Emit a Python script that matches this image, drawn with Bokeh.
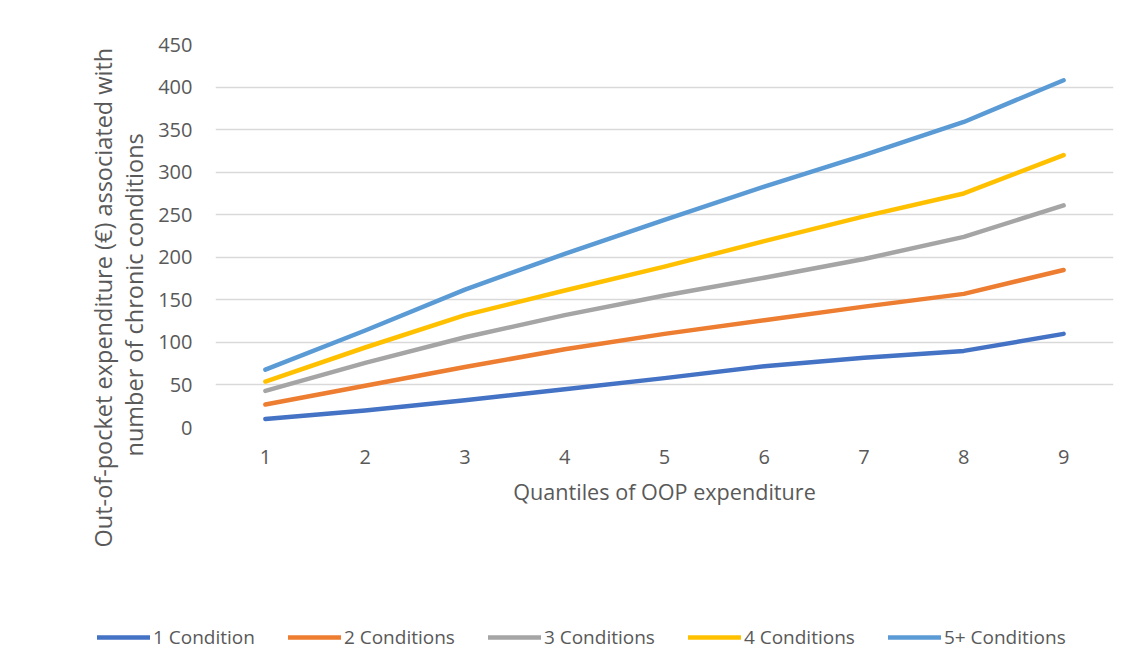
from bokeh.plotting import figure
from bokeh.models import Legend, LegendItem, FixedTicker, Range1d, Title
from bokeh.layouts import column, row
from bokeh.embed import file_html
from bokeh.resources import INLINE

# ---- data ----
quantiles = [1, 2, 3, 4, 5, 6, 7, 8, 9]
cond1 = [10, 20, 32, 45, 58, 72, 82, 90, 110]
cond2 = [27, 49, 71, 92, 110, 126, 142, 157, 185]
cond3 = [43, 76, 106, 132, 155, 176, 198, 224, 261]
cond4 = [54, 94, 132, 161, 189, 219, 248, 275, 320]
cond5 = [68, 114, 162, 204, 244, 283, 320, 359, 408]
series_names = ["1 Condition", "2 Conditions", "3 Conditions", "4 Conditions", "5+ Conditions"]
series_values = [cond1, cond2, cond3, cond4, cond5]
series_colors = ["#4472C4", "#ED7D31", "#A5A5A5", "#FFC000", "#5B9BD5"]
y_ticks = [0, 50, 100, 150, 200, 250, 300, 350, 400, 450]
x_title = "Quantiles of OOP expenditure"
y_title_1 = "Out-of-pocket  expenditure (€) associated with"
y_title_2 = "number of chronic conditions"

FONT = "Open Sans"
TXT = "#595959"
GRID = "#D9D9D9"

p = figure(width=1125, height=562,
           x_range=Range1d(0.5, 9.5), y_range=Range1d(0, 450),
           output_backend="svg", toolbar_location=None,
           min_border_left=215, min_border_top=44,
           min_border_right=12, min_border_bottom=135)
p.outline_line_color = None
p.background_fill_color = "white"
p.border_fill_color = "white"

for vals, col in zip(series_values, series_colors):
    p.line(quantiles, vals, line_color=col, line_width=4.5,
           line_cap="round", line_join="round")

# grid
p.xgrid.grid_line_color = None
p.ygrid.grid_line_color = GRID
p.ygrid.grid_line_width = 1.5
p.ygrid.ticker = FixedTicker(ticks=y_ticks)

# x axis
xa = p.xaxis[0]
xa.ticker = FixedTicker(ticks=quantiles)
xa.axis_line_color = None
xa.major_tick_line_color = None
xa.minor_tick_line_color = None
xa.major_label_text_font = FONT
xa.major_label_text_font_size = "20px"
xa.major_label_text_color = TXT
xa.major_label_standoff = 16
xa.axis_label = x_title
xa.axis_label_text_font = FONT
xa.axis_label_text_font_size = "21.6px"
xa.axis_label_text_font_style = "normal"
xa.axis_label_text_color = TXT
xa.axis_label_standoff = 10

# y axis (ticks only)
ya = p.yaxis[0]
ya.ticker = FixedTicker(ticks=y_ticks)
ya.axis_line_color = None
ya.major_tick_line_color = None
ya.minor_tick_line_color = None
ya.major_label_text_font = FONT
ya.major_label_text_font_size = "20px"
ya.major_label_text_color = TXT
ya.major_label_standoff = 17

# y title, two lines, centred on the whole chart height
for txt, so, off in ((y_title_2, 12, -29), (y_title_1, -18, -120)):
    t = Title(text=txt, align="left", offset=off, standoff=so,
              text_font=FONT, text_font_size="23.5px", text_font_style="normal",
              text_color=TXT)
    p.add_layout(t, "left")

# ---- legend strip (same series styles, legend only) ----
lg = figure(width=1125, height=90, x_range=Range1d(0, 1), y_range=Range1d(0, 1),
            output_backend="svg", toolbar_location=None,
            min_border_left=0, min_border_right=0, min_border_top=0, min_border_bottom=0)
lg.axis.visible = False
lg.grid.visible = False
lg.outline_line_color = None
lg.border_fill_color = "white"
lg.background_fill_color = "white"
items = []
for name, col in zip(series_names, series_colors):
    r = lg.line(x=[0, 1], y=[-5, -5], line_color=col, line_width=4.5, line_cap="round")
    items.append(LegendItem(label=name, renderers=[r]))
legend = Legend(items=items, orientation="horizontal", location=(97, 2),
                glyph_width=53, glyph_height=20, label_standoff=3, spacing=33,
                padding=0, margin=0, border_line_color=None,
                background_fill_alpha=0,
                label_text_font=FONT, label_text_font_size="19px",
                label_text_color=TXT)
lg.add_layout(legend)

open("out.html", "w").write(file_html(column(p, row(lg), spacing=0), INLINE))
